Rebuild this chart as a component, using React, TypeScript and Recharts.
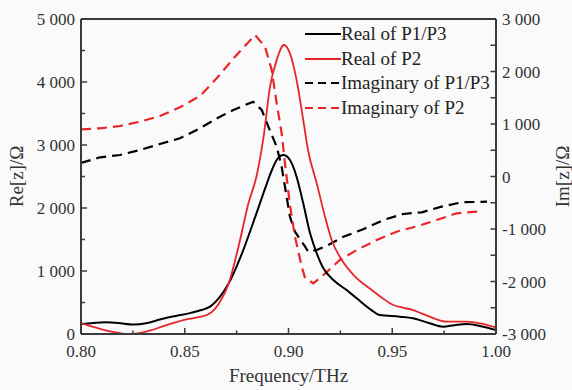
import { Legend, Line, LineChart, ReferenceLine, XAxis, YAxis } from "recharts";

// Real part of P1/P3 (left axis, Ω)
const realP13Freq = [
  0.8, 0.806, 0.812, 0.818, 0.825, 0.832, 0.838, 0.843, 0.848, 0.853, 0.858, 0.8622, 0.867,
  0.8712, 0.8776, 0.884, 0.8896, 0.892, 0.8943, 0.8975, 0.9007, 0.9039, 0.9071, 0.9104,
  0.9136, 0.9168, 0.9216, 0.928, 0.9329, 0.94, 0.944, 0.9537, 0.96, 0.968, 0.9745, 0.98,
  0.9859, 0.9923, 1.0
];
const realP13Values = [
  160, 175, 185, 175, 150, 175, 230, 270, 300, 335, 380, 434, 592, 804, 1281, 1862, 2392,
  2603, 2762, 2841, 2762, 2497, 2074, 1598, 1281, 1042, 857, 698, 566, 380, 300, 275, 250,
  170, 116, 140, 159, 127, 63
];

// Real part of P2 (left axis, Ω)
const realP2Freq = [
  0.8, 0.805, 0.81, 0.816, 0.822, 0.828, 0.834, 0.84, 0.846, 0.852, 0.8573, 0.8622, 0.867,
  0.8712, 0.8759, 0.8807, 0.8847, 0.888, 0.8911, 0.8943, 0.8978, 0.9007, 0.9039, 0.9071,
  0.9094, 0.9136, 0.9176, 0.9208, 0.9257, 0.9321, 0.9401, 0.9457, 0.9505, 0.955, 0.96,
  0.968, 0.9762, 0.986, 0.9923, 1.0
];
const realP2Values = [
  175, 120, 75, 30, 0, 15, 60, 130, 190, 240, 270, 328, 513, 804, 1386, 2074, 2520, 3132,
  3926, 4349, 4587, 4455, 4032, 3397, 2921, 2392, 1862, 1492, 1175, 910, 698, 560, 460, 420,
  380, 275, 195, 195, 170, 105
];

// Imaginary part of P1/P3 (right axis, Ω)
const imagP13Freq = [
  0.8, 0.8092, 0.8188, 0.8284, 0.838, 0.8477, 0.8573, 0.867, 0.8734, 0.883, 0.8871, 0.8903,
  0.8943, 0.8967, 0.9007, 0.9031, 0.908, 0.9095, 0.9136, 0.9192, 0.9264, 0.936, 0.9457,
  0.9553, 0.9642, 0.9738, 0.9835, 0.9957
];
const imagP13Values = [
  257, 366, 410, 505, 619, 728, 918, 1139, 1267, 1425, 1267, 949, 568, 187, -766, -1051,
  -1337, -1432, -1400, -1305, -1147, -1006, -829, -714, -682, -575, -491, -480
];

// Imaginary part of P2 (right axis, Ω)
const imagP2Freq = [
  0.8, 0.8092, 0.8188, 0.8284, 0.838, 0.8477, 0.8573, 0.8654, 0.8742, 0.8839, 0.8887,
  0.8919, 0.8943, 0.8967, 0.8983, 0.9007, 0.9031, 0.9064, 0.908, 0.912, 0.9168, 0.9248,
  0.9329, 0.9425, 0.9521, 0.9618, 0.9714, 0.9811, 0.9907, 0.9931
];
const imagP2Values = [
  899, 918, 962, 1044, 1152, 1318, 1533, 1870, 2282, 2695, 2472, 2029, 1394, 823, 251,
  -543, -1147, -1718, -1939, -2034, -1876, -1590, -1400, -1210, -1051, -950, -829, -701,
  -670, -670
];

const freqTicks = [0.8, 0.825, 0.85, 0.875, 0.9, 0.925, 0.95, 0.975, 1.0];
const reTicks = [0, 500, 1000, 1500, 2000, 2500, 3000, 3500, 4000, 4500, 5000];
const imTicks = [-3000, -2500, -2000, -1500, -1000, -500, 0, 500, 1000, 1500, 2000, 2500, 3000];

const seriesNames = ["Real of P1/P3", "Real of P2", "Imaginary of P1/P3", "Imaginary of P2"];

const RED = "#e8262a";
const BLACK = "#000000";
const AXIS = "#3a3a3a";
const FONT = "'Liberation Serif', 'DejaVu Serif', serif";
const DASH = "10 6";

const zip = (freq: number[], values: number[]) =>
  freq.map((f, i) => ({ f, v: values[i] }));

const isThousand = (v: number) => Math.round(v) % 1000 === 0;

const fmtThousands = (v: number) => {
  const s = Math.abs(v).toString();
  const body = s.length > 3 ? s.slice(0, -3) + " " + s.slice(-3) : s;
  return (v < 0 ? "-" : "") + body;
};

const isMajorFreq = (v: number) => Math.round(v * 1000) % 50 === 0;

// tick gaps between axis line and label anchor
const X_GAP = 11;
const LEFT_GAP = 5;
const RIGHT_GAP = 6;

function FreqTick(props: any) {
  const { x, y, payload } = props;
  const v = payload.value as number;
  const major = isMajorFreq(v);
  const axisY = y - X_GAP;
  return (
    <g>
      <line x1={x} y1={axisY} x2={x} y2={axisY - (major ? 6 : 3.5)} stroke={AXIS} strokeWidth={1.5} />
      {major && (
        <text x={x} y={y} dy="0.71em" textAnchor="middle" fontFamily={FONT} fontSize={17} fill="#333">
          {v.toFixed(2)}
        </text>
      )}
    </g>
  );
}

function ReTick(props: any) {
  const { x, y, payload } = props;
  const v = payload.value as number;
  const major = isThousand(v);
  const axisX = x + LEFT_GAP;
  return (
    <g>
      <line x1={axisX} y1={y} x2={axisX + (major ? 6 : 4)} y2={y} stroke={AXIS} strokeWidth={1.5} />
      {major && (
        <text x={x - 1} y={y} dy="0.355em" textAnchor="end" fontFamily={FONT} fontSize={17} fill="#333">
          {fmtThousands(v)}
        </text>
      )}
    </g>
  );
}

function ImTick(props: any) {
  const { x, y, payload } = props;
  const v = payload.value as number;
  const major = isThousand(v);
  const axisX = x - RIGHT_GAP;
  return (
    <g>
      <line x1={axisX} y1={y} x2={axisX - 5.5} y2={y} stroke={AXIS} strokeWidth={1.5} />
      {major && (
        <text x={x} y={y} dy="0.355em" textAnchor="start" fontFamily={FONT} fontSize={17} fill="#333">
          {fmtThousands(v)}
        </text>
      )}
    </g>
  );
}

const legendItems = [
  { name: seriesNames[0], color: BLACK, dash: undefined },
  { name: seriesNames[1], color: RED, dash: undefined },
  { name: seriesNames[2], color: BLACK, dash: "8 5" },
  { name: seriesNames[3], color: RED, dash: "8 5" }
];

function ChartLegend() {
  return (
    <div style={{ fontFamily: FONT, fontSize: 19, color: "#222" }}>
      {legendItems.map((item) => (
        <div
          key={item.name}
          style={{ display: "flex", alignItems: "center", height: 24.5, whiteSpace: "nowrap" }}
        >
          <svg width={36} height={6} style={{ display: "block" }}>
            <line
              x1={0}
              y1={3}
              x2={36}
              y2={3}
              stroke={item.color}
              strokeWidth={2.2}
              strokeDasharray={item.dash}
            />
          </svg>
          <span>{item.name}</span>
        </div>
      ))}
    </div>
  );
}

export default function App() {
  const labelStyle = { fontFamily: FONT, fontSize: 19, fill: "#333", textAnchor: "middle" as const };

  return (
    <div
      style={{
        position: "absolute",
        left: 0,
        top: 0,
        width: 572,
        height: 390,
        background: "#fafafa",
        fontFamily: FONT
      }}
    >
      <LineChart width={572} height={390} margin={{ top: 19, right: 0, bottom: 0, left: 0 }}>
        <XAxis
          dataKey="f"
          type="number"
          domain={[0.8, 1.0]}
          ticks={freqTicks}
          interval={0}
          allowDataOverflow
          height={56}
          tickSize={0}
          tickMargin={X_GAP}
          axisLine={{ stroke: AXIS, strokeWidth: 2 }}
          tickLine={false}
          tick={<FreqTick />}
          label={{ value: "Frequency/THz", position: "insideBottom", offset: 8, style: labelStyle }}
        />
        <YAxis
          yAxisId="re"
          orientation="left"
          domain={[0, 5000]}
          ticks={reTicks}
          interval={0}
          allowDataOverflow
          width={81}
          tickSize={0}
          tickMargin={LEFT_GAP}
          axisLine={{ stroke: AXIS, strokeWidth: 2 }}
          tickLine={false}
          tick={<ReTick />}
          label={{ value: "Re[z]/Ω", angle: -90, position: "insideLeft", offset: 16, style: labelStyle }}
        />
        <YAxis
          yAxisId="im"
          orientation="right"
          domain={[-3000, 3000]}
          ticks={imTicks}
          interval={0}
          allowDataOverflow
          width={76}
          tickSize={0}
          tickMargin={RIGHT_GAP}
          axisLine={{ stroke: AXIS, strokeWidth: 2 }}
          tickLine={false}
          tick={<ImTick />}
          label={{ value: "Im[z]/Ω", angle: -90, position: "insideRight", offset: 10, style: labelStyle }}
        />
        <ReferenceLine yAxisId="re" y={5000} stroke={AXIS} strokeWidth={2} />
        <Legend
          layout="vertical"
          align="center"
          verticalAlign="middle"
          content={() => <ChartLegend />}
          wrapperStyle={{ position: "absolute", left: 305, top: 22, width: "auto" }}
        />
        <Line
          yAxisId="im"
          data={zip(imagP13Freq, imagP13Values)}
          dataKey="v"
          name={seriesNames[2]}
          type="linear"
          stroke={BLACK}
          strokeWidth={2.2}
          strokeDasharray={DASH}
          dot={false}
          activeDot={false}
          isAnimationActive={false}
        />
        <Line
          yAxisId="im"
          data={zip(imagP2Freq, imagP2Values)}
          dataKey="v"
          name={seriesNames[3]}
          type="linear"
          stroke={RED}
          strokeWidth={2.2}
          strokeDasharray={DASH}
          dot={false}
          activeDot={false}
          isAnimationActive={false}
        />
        <Line
          yAxisId="re"
          data={zip(realP13Freq, realP13Values)}
          dataKey="v"
          name={seriesNames[0]}
          type="monotone"
          stroke={BLACK}
          strokeWidth={2}
          dot={false}
          activeDot={false}
          isAnimationActive={false}
        />
        <Line
          yAxisId="re"
          data={zip(realP2Freq, realP2Values)}
          dataKey="v"
          name={seriesNames[1]}
          type="monotone"
          stroke={RED}
          strokeWidth={1.8}
          dot={false}
          activeDot={false}
          isAnimationActive={false}
        />
      </LineChart>
    </div>
  );
}
